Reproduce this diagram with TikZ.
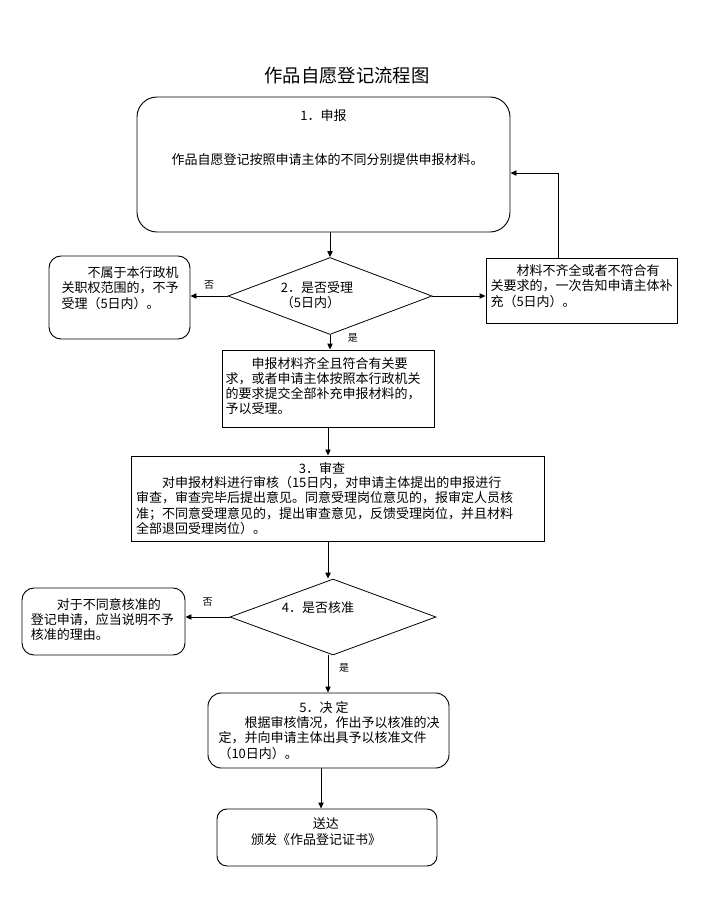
\documentclass[tikz,border=0pt]{standalone}
\usepackage{fontspec}
\setmainfont{Noto Sans CJK SC}
\usetikzlibrary{arrows.meta, shapes.geometric, positioning, calc}

\begin{document}
\begin{tikzpicture}[x=0.75pt, y=-0.75pt,
   box/.style = {draw, line width=0.7pt, inner sep=0pt},
   roundbox/.style = {box, rounded corners=#1}, roundbox/.default = 9pt,
   decision/.style = {draw, diamond, line width=0.6pt, inner sep=0pt},
   txt/.style = {align=left, inner sep=0pt, font=\fontsize{9.75pt}{11.4pt}\selectfont},
   tag/.style = {inner sep=0pt, font=\fontsize{7.5pt}{9pt}\selectfont},
   flow/.style = {-{Triangle[length=4.5pt,width=4pt]}, line width=0.7pt}]
   \useasboundingbox (0,0) rectangle (704,907);

   \node[inner sep=0pt, font=\fontsize{13.75pt}{16pt}\selectfont] (title) at (347,76) {作品自愿登记流程图};

   % boxes
   \node[roundbox=15pt, minimum width=279.75pt, minimum height=101.25pt] (apply) at (323.5,164.5) {};
   \node[decision, minimum width=153pt, minimum height=57.75pt] (accept) at (330,296) {};
   \node[roundbox, minimum width=105.75pt, minimum height=62.25pt] (reject) at (119.5,297.5) {};
   \node[box, minimum width=143.25pt, minimum height=48.75pt] (supply) at (581.5,290.5) {};
   \node[box, minimum width=159pt, minimum height=57.75pt] (ok) at (328,388.5) {};
   \node[box, minimum width=309.75pt, minimum height=63.75pt] (review) at (337.5,498.5) {};
   \node[decision, minimum width=154.5pt, minimum height=57pt] (approve) at (333,617) {};
   \node[roundbox, minimum width=122.25pt, minimum height=50.25pt] (refuse) at (103.5,621.5) {};
   \node[roundbox=10pt, minimum width=180.75pt, minimum height=56.25pt] (decide) at (328.5,730.5) {};
   \node[roundbox=7.5pt, minimum width=165pt, minimum height=42.75pt] (issue) at (327,837.5) {};

   % texts
   \node[txt] (apply-head) at (323.5,116) {1．申报};
   \node[txt] (apply-body) at (327.5,160) {作品自愿登记按照申请主体的不同分别提供申报材料。};
   \node[txt] (accept-text) at (317,295) {2．是否受理\\（5日内）};
   \node[txt] (reject-text) at (120,288) {\hspace*{2em}不属于本行政机\\关职权范围的，不予\\受理（5日内）。};
   \node[txt] (supply-text) at (581.5,286) {\hspace*{2em}材料不齐全或者不符合有\\关要求的，一次告知申请主体补\\充（5日内）。};
   \node[txt] (ok-text) at (323,386) {\hspace*{2em}申报材料齐全且符合有关要\\求，或者申请主体按照本行政机关\\的要求提交全部补充申报材料的，\\予以受理。};
   \node[txt] (review-head) at (322,468) {3．审查};
   \node[txt] (review-body) at (324.5,505.5) {\hspace*{2em}对申报材料进行审核（15日内，对申请主体提出的申报进行\\审查，审查完毕后提出意见。同意受理岗位意见的，报审定人员核\\准；不同意受理意见的，提出审查意见，反馈受理岗位，并且材料\\全部退回受理岗位）。};
   \node[txt] (approve-text) at (318,608) {4．是否核准};
   \node[txt] (refuse-text) at (102.5,619.5) {\hspace*{2em}对于不同意核准的\\登记申请，应当说明不予\\核准的理由。};
   \node[txt] (decide-head) at (324,708) {5．决\ 定};
   \node[txt] (decide-body) at (329,738) {\hspace*{2em}根据审核情况，作出予以核准的决\\定，并向申请主体出具予以核准文件\\（10日内）。};
   \node[txt] (issue-text) at (316,831.5) {\hspace*{4.75em}送达\\颁发《作品登记证书》};

   % connectors
   \draw[flow] (apply.south -| accept.north) -- (accept.north);
   \draw[flow] (accept.west) -- (accept.west -| reject.east) node[tag, midway, above=5pt] {否};
   \draw[flow] (accept.east) -- (accept.east -| supply.west);
   \draw[flow] ([xshift=-17.6pt]supply.north) |- ([yshift=-6.4pt]apply.east);
   \draw[flow] (accept.south) -- (accept.south |- ok.north) node[tag, pos=0.2, right=13pt] {是};
   %
   \draw[flow] (ok.south) -- (ok.south |- review.north);
   \draw[flow] (review.south -| ok.south) -- (approve.north -| ok.south);
   \draw[flow] (approve.west) -- (approve.west -| refuse.east) node[tag, midway, above=8pt] {否};
   \draw[flow] (approve.south -| ok.south) -- (decide.north -| ok.south) node[tag, pos=0.35, right=8pt] {是};
   \draw[flow] ([xshift=-5.6pt]decide.south) -- ([xshift=-5.6pt]decide.south |- issue.north);
\end{tikzpicture}
\end{document}
